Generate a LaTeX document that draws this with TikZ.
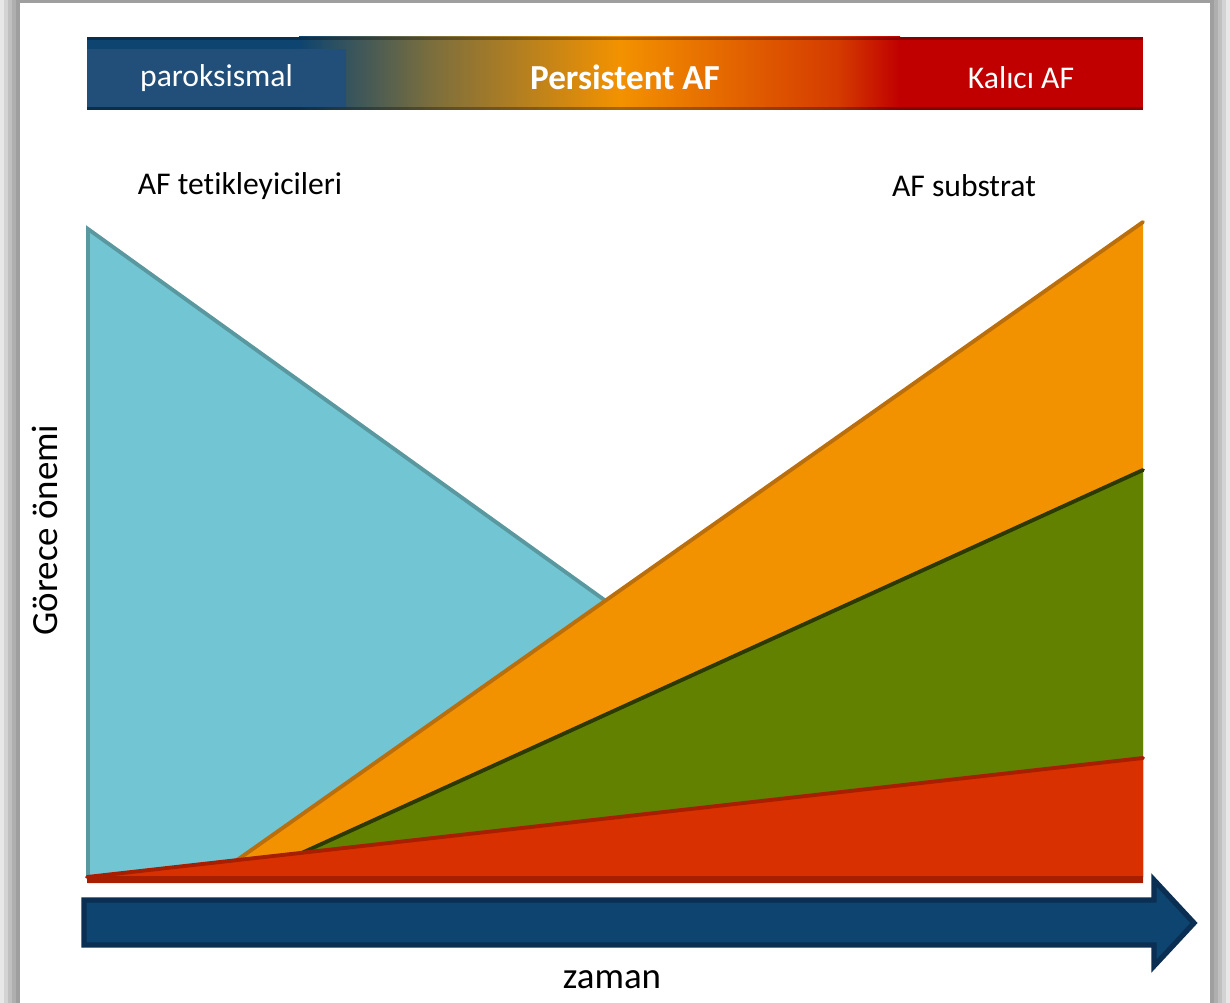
\documentclass[tikz,border=0pt]{standalone}
\usepackage{fontspec}
\setmainfont{Carlito}[Ligatures=NoCommon]
\usetikzlibrary{positioning}

\definecolor{koyumavi}{HTML}{0E4470}
\definecolor{okkenar}{HTML}{0A2F52}
\definecolor{paromavi}{HTML}{214F7A}
\definecolor{zeytin}{HTML}{7A6E3E}
\definecolor{turuncu}{HTML}{F39200}
\definecolor{koyuturuncu}{HTML}{D43A00}
\definecolor{kalicikirmizi}{HTML}{C00000}
\definecolor{camgobegi}{HTML}{72C6D4}
\definecolor{camkenar}{HTML}{5A98A0}
\definecolor{turuncukenar}{HTML}{BA6E0C}
\definecolor{yesil}{HTML}{638100}
\definecolor{yesilkenar}{HTML}{2A3A00}
\definecolor{kirmizi}{HTML}{D93000}
\definecolor{kirmizikenar}{HTML}{A81E00}

\begin{document}
\begin{tikzpicture}
[
   x=0.02cm,y=-0.02cm,
   etiket/.style={font=\fontsize{18}{20}\selectfont, inner sep=0pt},
   eksen/.style={font=\fontsize{21}{24}\selectfont, inner sep=0pt},
   kutu/.style={etiket, text=white, minimum height=1.16cm},
   kenar/.style={line width=2.2pt, line cap=round}]
\useasboundingbox (0,0) rectangle (1230,1003);

% sayfa ve golgesi
\foreach \i in {0,4,8,12,16}
   \fill[black,opacity=0.09] (\i,0) rectangle (1230-\i,1003);
\fill[white] (20,3) rectangle (1210,1003);

% ust serit
\fill[koyumavi] (87,37) rectangle (300,110);
\shade[left color=koyumavi, right color=zeytin] (299,37) rectangle (430,110);
\shade[left color=zeytin, right color=turuncu] (429,37) rectangle (620,110);
\shade[left color=turuncu, right color=koyuturuncu] (619,37) rectangle (840,110);
\shade[left color=koyuturuncu, right color=kalicikirmizi] (839,37) rectangle (900,110);
\fill[kalicikirmizi] (899,37) rectangle (1143,110);
\fill[black,opacity=0.3] (87,37) rectangle (1143,40);
\fill[black,opacity=0.3] (87,107) rectangle (1143,110);

\node[kutu, fill=paromavi, minimum width=5.18cm] (parok) at (216.5,78) {paroksismal};
\node[kutu, fill=kalicikirmizi, minimum width=4.88cm] (kalici) at (1021,78) {Kalıcı AF};
\node[font=\fontsize{20}{22}\selectfont\bfseries, text=white, inner sep=0pt] (persist) at (625,77) {Persistent AF};

\node[etiket] (tetik) at (240,186) {AF tetikleyicileri};
\node[etiket] (substrat) at (964,186) {AF substrat};

% ucgenler
\fill[camgobegi] (87,228) -- (87,877) -- (990,877) -- cycle;
\draw[kenar, camkenar] (88,877) -- (88,229) -- (990,877);
\fill[turuncu] (213,877) -- (1143,222) -- (1143,877) -- cycle;
\draw[kenar, turuncukenar] (213,877) -- (1143,222);
\fill[yesil] (249,877) -- (1143,470) -- (1143,877) -- cycle;
\draw[kenar, yesilkenar] (249,877) -- (1143,470);
\fill[kirmizi] (87,877) -- (1143,757) -- (1143,883) -- (87,883) -- cycle;
\draw[kenar, kirmizikenar] (87,877) -- (1143,758);
\fill[kirmizikenar] (87,876) rectangle (1143,883);

% zaman oku
\filldraw[fill=koyumavi, draw=okkenar, line width=3pt, line join=miter]
   (84,900) -- (1154,900) -- (1154,880) -- (1194,923) -- (1154,966) -- (1154,945) -- (84,945) -- cycle;

\node[eksen] (zaman) at (612,980) {zaman};
\node[eksen, rotate=90] (gorece) at (45,530) {Görece önemi};
\end{tikzpicture}
\end{document}
